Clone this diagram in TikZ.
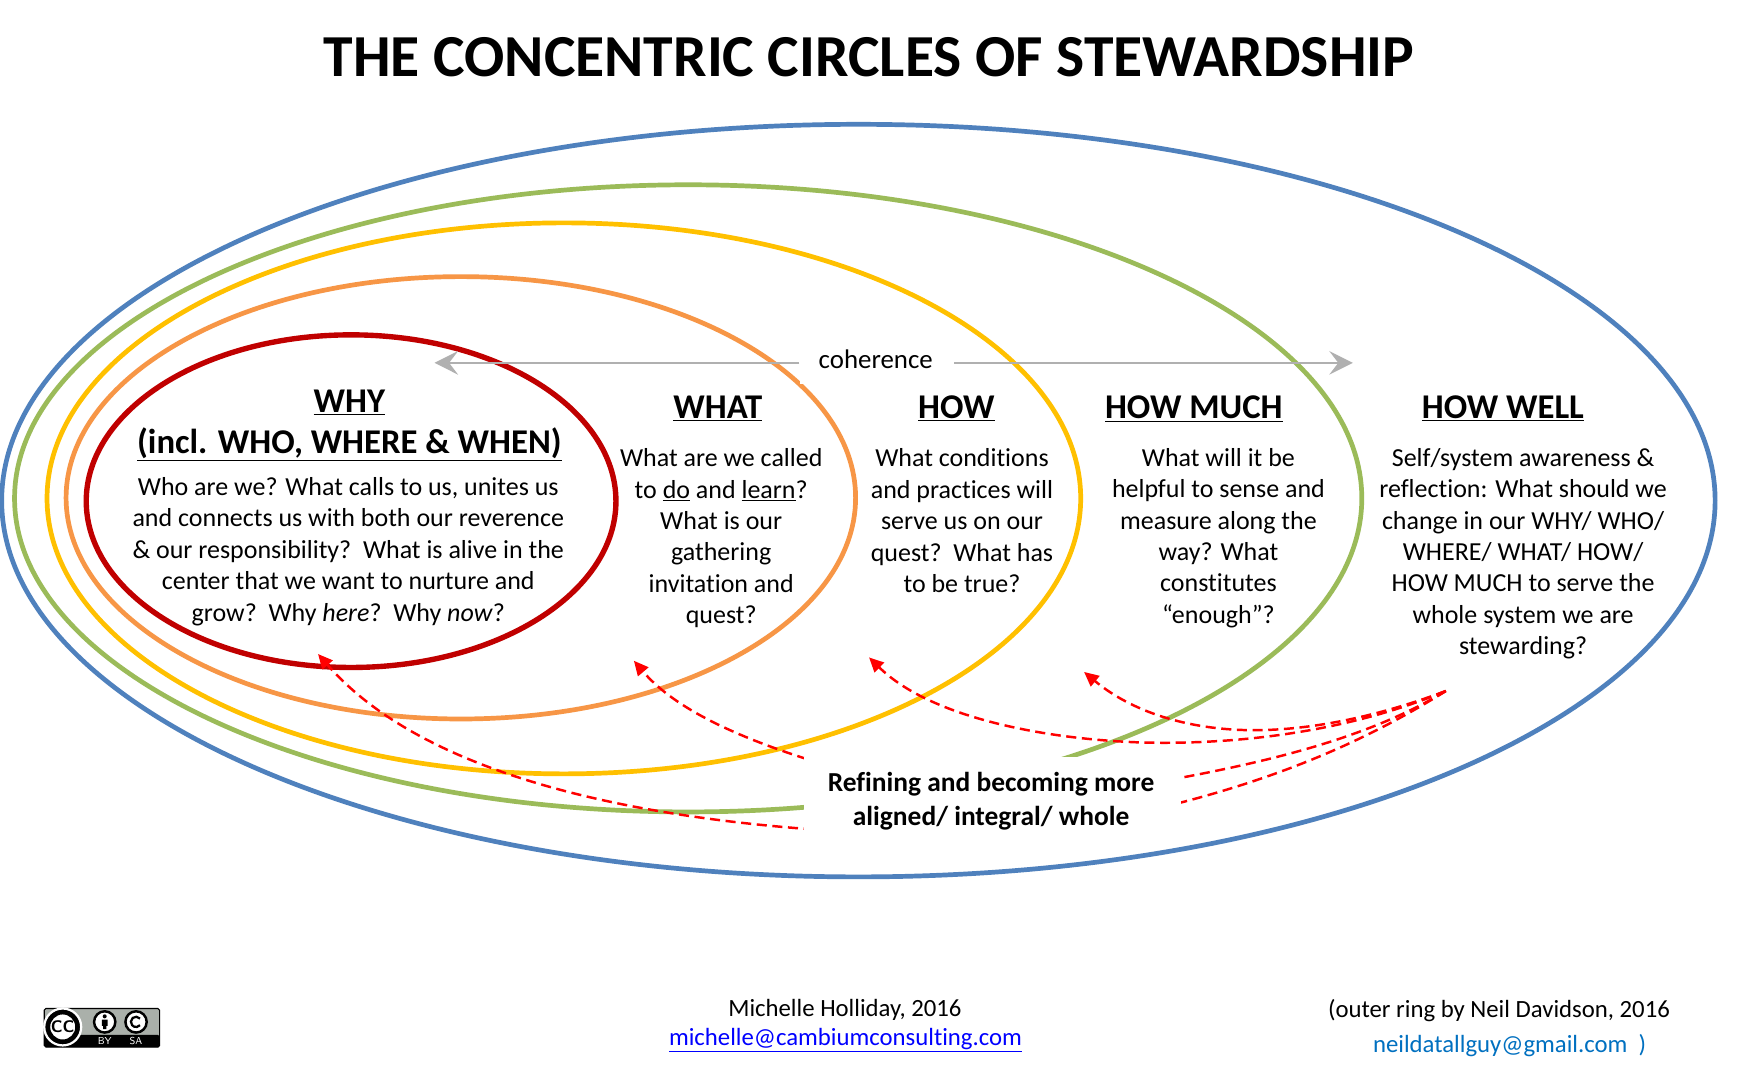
\documentclass[tikz,border=0pt]{standalone}
\usepackage{fontspec}
\setmainfont[Ligatures=NoCommon]{Carlito}
\usetikzlibrary{arrows.meta,shapes.geometric}
\definecolor{cblue}{RGB}{79,129,189}
\definecolor{cgreen}{RGB}{155,187,89}
\definecolor{cyellow}{RGB}{255,192,0}
\definecolor{corange}{RGB}{247,150,70}
\definecolor{cred}{RGB}{192,0,0}
\definecolor{cdash}{RGB}{255,0,0}
\definecolor{cgray}{RGB}{176,176,176}
\definecolor{clink}{RGB}{0,0,255}
\definecolor{clink2}{RGB}{0,112,192}
\definecolor{ccbg}{RGB}{170,176,170}
\tikzset{
  ring/.style={draw=#1,line width=4.2pt,ellipse,inner sep=0pt},
  body/.style={align=center,inner sep=0pt,font=\fontsize{23.2}{28}\selectfont},
  head/.style={align=center,inner sep=0pt,font=\fontsize{31}{37}\selectfont\bfseries},
  foot/.style={inner sep=0pt,font=\fontsize{22.1}{26}\selectfont},
  refine/.style={dash pattern=on 9pt off 5pt,draw=cdash,line width=2.2pt},
  cohere/.style={draw=cgray,line width=2.2pt,-{Stealth[length=21pt,width=21pt,inset=8pt]}},
  ccring/.style={draw=black,line width=2.2pt,fill=white,circle,inner sep=0pt},
}
\begin{document}
\begin{tikzpicture}[x=1pt,y=-1pt]
\useasboundingbox (0,0) rectangle (1568,959);
\fill[white] (0,0) rectangle (1568,959);
% rings
\node[ring=cblue,minimum width=1530pt,minimum height=672pt] (blue) at (766.5,447) {};
\node[ring=cgreen,minimum width=1203pt,minimum height=560pt] (green) at (614.5,445) {};
\node[ring=cyellow,minimum width=923pt,minimum height=492pt] (yellow) at (503.5,445) {};
\node[ring=corange,minimum width=705pt,minimum height=395pt] (orange) at (411.5,444.5) {};
\node[ring=cred,line width=4.8pt,minimum width=473pt,minimum height=297pt] (red) at (313.5,447.5) {};
% refining arrows
\coordinate (src) at (1291,617);
\coordinate (tipwhy) at (284,584);
\coordinate (tipwhat) at (566,590);
\coordinate (tiphow) at (776,587);
\coordinate (tipmuch) at (968,600);
\draw[refine,-{Triangle[length=13pt,width=12pt]}] (src) .. controls (1210,668) and (1130,697) .. (1053,717) .. controls (950,745) and (830,748) .. (718,740) .. controls (590,730) and (385,700) .. (tipwhy);
\draw[refine,-{Triangle[length=13pt,width=12pt]}] (src) .. controls (1220,660) and (1130,680) .. (1057,694) .. controls (950,712) and (800,712) .. (718,677) .. controls (650,655) and (600,630) .. (tipwhat);
\draw[refine,-{Triangle[length=13pt,width=12pt]}] (src) .. controls (1200,655) and (1100,665) .. (1020,663) .. controls (930,660) and (830,640) .. (tiphow);
\draw[refine,-{Triangle[length=13pt,width=12pt]}] (src) .. controls (1230,640) and (1170,652) .. (1120,652) .. controls (1060,652) and (1010,635) .. (tipmuch);
% mask and caption
\node[fill=white,minimum width=337pt,minimum height=74pt,inner sep=0pt] (mask) at (886,713) {};
\node[align=center,inner sep=0pt,font=\fontsize{24.5}{30}\selectfont\bfseries] (refining) at (885,715.5) {Refining and becoming more\\aligned/ integral/ whole};
% coherence
\node[fill=white,minimum width=138pt,minimum height=38pt,inner sep=0pt] (cohbox) at (783,324) {};
\node[body,font=\fontsize{24}{28}\selectfont] (coh) at (782,321) {coherence};
\coordinate (cohleft) at (388,324);
\coordinate (cohright) at (1208,324);
\draw[cohere] (cohbox.west) -- (cohleft);
\draw[cohere] (cohbox.east) -- (cohright);
% title
\node[inner sep=0pt,font=\fontsize{53.2}{60}\selectfont\bfseries] (title) at (776,51) {THE CONCENTRIC CIRCLES OF STEWARDSHIP};
% headings
\node[head] (hwhy) at (312,380) {\underline{WHY}\\\underline{(incl. WHO, WHERE \& WHEN)}};
\node[head] (hwhat) at (641,365) {\underline{WHAT}};
\node[head] (hhow) at (854,365) {\underline{HOW}};
\node[head] (hmuch) at (1066,365) {\underline{HOW MUCH}};
\node[head] (hwell) at (1342,365) {\underline{HOW WELL}};
% bodies
\node[body] (bwhy) at (311,492.5) {Who are we? What calls to us, unites us\\and connects us with both our reverence\\\& our responsibility?\ \ What is alive in the\\center that we want to nurture and\\grow?\ \ Why \textit{here}?\ \ Why \textit{now}?};
\node[body] (bwhat) at (644,480.5) {What are we called\\to \underline{do} and \underline{learn}?\\What is our\\gathering\\invitation and\\quest?};
\node[body] (bhow) at (859,465) {What conditions\\and practices will\\serve us on our\\quest?\ \ What has\\to be true?};
\node[body] (bmuch) at (1088,480.5) {What will it be\\helpful to sense and\\measure along the\\way? What\\constitutes\\“enough”?};
\node[body] (bwell) at (1360,494.5) {Self/system awareness \&\\reflection: What should we\\change in our WHY/ WHO/\\WHERE/ WHAT/ HOW/\\HOW MUCH to serve the\\whole system we are\\stewarding?};
% footer
\node[foot] (f1) at (754.5,902) {Michelle Holliday, 2016};
\node[foot,text=clink] (f2) at (755,928.5) {\underline{michelle@cambiumconsulting.com}};
\node[foot] (f3) at (1338.5,902) {(outer ring by Neil Davidson, 2016};
\node[foot,text=clink2] (f4) at (1348,934) {neildatallguy@gmail.com\ \ )};
% CC badge
\draw[black,line width=1pt,fill=ccbg,rounded corners=1.5pt] (39.5,900.5) rectangle (142.5,935) ;
\fill[black,rounded corners=1.5pt] (39.5,924) rectangle (142.5,935);
\node[ccring,draw=white,line width=2pt,fill=black,minimum size=33pt] (ccout) at (56,917) {};
\node[ccring,line width=2.6pt,minimum size=25pt] (cc) at (56,917) {};
\node[inner sep=0pt,font=\fontsize{15}{15}\selectfont\bfseries\sffamily] (cct) at (56,917) {CC};
\node[ccring,minimum size=19pt] (by) at (93.5,912.5) {};
\fill[black] (93.5,907.5) circle (1.8pt);
\fill[black] (91,910.5) rectangle (96,916) (92,916) rectangle (95,919);
\node[ccring,minimum size=19pt] (sa) at (121.5,912.5) {};
\draw[black,line width=2pt] (125,909.5) arc[start angle=40,end angle=320,radius=4.6pt];
\node[inner sep=0pt,text=white,font=\fontsize{9}{9}\selectfont\sffamily] (bylab) at (93.5,929.5) {BY};
\node[inner sep=0pt,text=white,font=\fontsize{9}{9}\selectfont\sffamily] (salab) at (121.5,929.5) {SA};
\end{tikzpicture}
\end{document}
